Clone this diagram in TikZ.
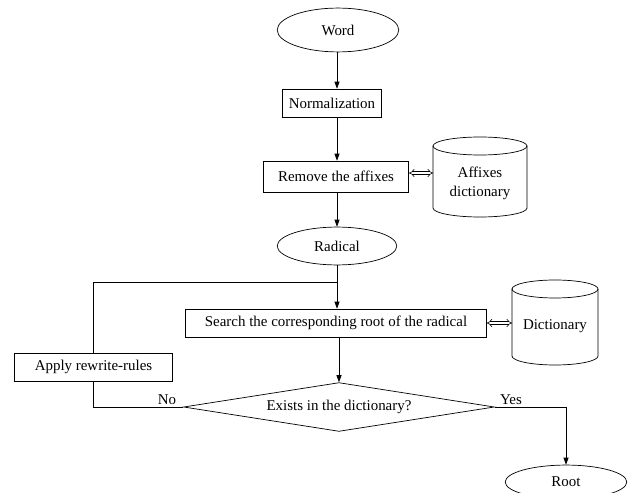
\documentclass[tikz,border=0pt]{standalone}
\usepackage{fontspec}
\setmainfont{Liberation Serif}
\usetikzlibrary{arrows.meta,shapes.geometric}
\begin{document}
\begin{tikzpicture}[x=1bp,y=-1bp,
  font=\fontsize{15}{19}\selectfont,
  every node/.style={inner sep=0pt},
  box/.style={draw, rectangle, line width=0.7bp},
  oval/.style={draw, ellipse, line width=0.7bp},
  flow/.style={line width=0.7bp, -{Triangle[length=7bp,width=5bp]}},
  link/.style={line width=0.7bp},
  dbl/.style={double, double distance=2.2bp, line width=0.6bp, {Implies}-{Implies}},
]
\useasboundingbox (0,0) rectangle (628,493);
\fill[white] (0,0) rectangle (628,493);

% main column
\node[oval, minimum width=122, minimum height=44] (word) at (338,30) {Word};
\node[box, minimum width=99, minimum height=28] (norm) at (332,103) {Normalization};
\node[box, minimum width=146, minimum height=31] (remove) at (336,176.5) {Remove the affixes};
\node[oval, minimum width=120, minimum height=38] (radical) at (337,246) {Radical};
\node[box, minimum width=302, minimum height=28] (search) at (336,323) {Search the corresponding root of the radical};
\node[draw, diamond, line width=0.7bp, aspect=6.4, minimum width=312, minimum height=49] (dec) at (339,407) {Exists in the dictionary?};
\node[box, minimum width=159, minimum height=28] (apply) at (93.5,367) {Apply rewrite-rules};
\node[oval, minimum width=122, minimum height=34] (root) at (566,482) {Root};

% affixes dictionary (cylinder)
\draw[link] (433,146) -- (433,208) arc[start angle=180,end angle=0,x radius=47,y radius=9] -- (527,146);
\draw[link] (480,146) ellipse[x radius=47,y radius=9];
\node[minimum width=94, minimum height=80] (affix) at (480,177) {};
\node[align=center] (affixtext) at (480,183) {Affixes\\dictionary};

% dictionary (cylinder)
\draw[link] (512,289) -- (512,356) arc[start angle=180,end angle=0,x radius=43,y radius=9] -- (598,289);
\draw[link] (555,289) ellipse[x radius=43,y radius=9];
\node[minimum width=86, minimum height=85] (dict) at (555,322) {};
\node (dicttext) at (555,326) {Dictionary};

% connectors
\coordinate (join) at (337,282);
\draw[flow] (word.south -| 337,0) -- (norm.north -| 337,0);
\draw[flow] (norm.south -| 337,0) -- (remove.north -| 337,0);
\draw[flow] (remove.south -| 337,0) -- (radical.north);
\draw[flow] (radical.south) -- (radical.south |- search.north);
\draw[flow] (search.south -| dec.north) -- (dec.north);
\draw[link] (apply.north) |- (join);
\draw[link] (dec.west) -| (apply.south);
\draw[flow] (dec.east) -| (root.north);
\draw[dbl] ([yshift=3.5bp]remove.east) -- ([yshift=3.5bp]remove.east -| affix.west);
\draw[dbl] (search.east) -- (search.east -| dict.west);

% branch labels
\node (no) at (167,400) {No};
\node (yes) at (511,400) {Yes};
\end{tikzpicture}
\end{document}
